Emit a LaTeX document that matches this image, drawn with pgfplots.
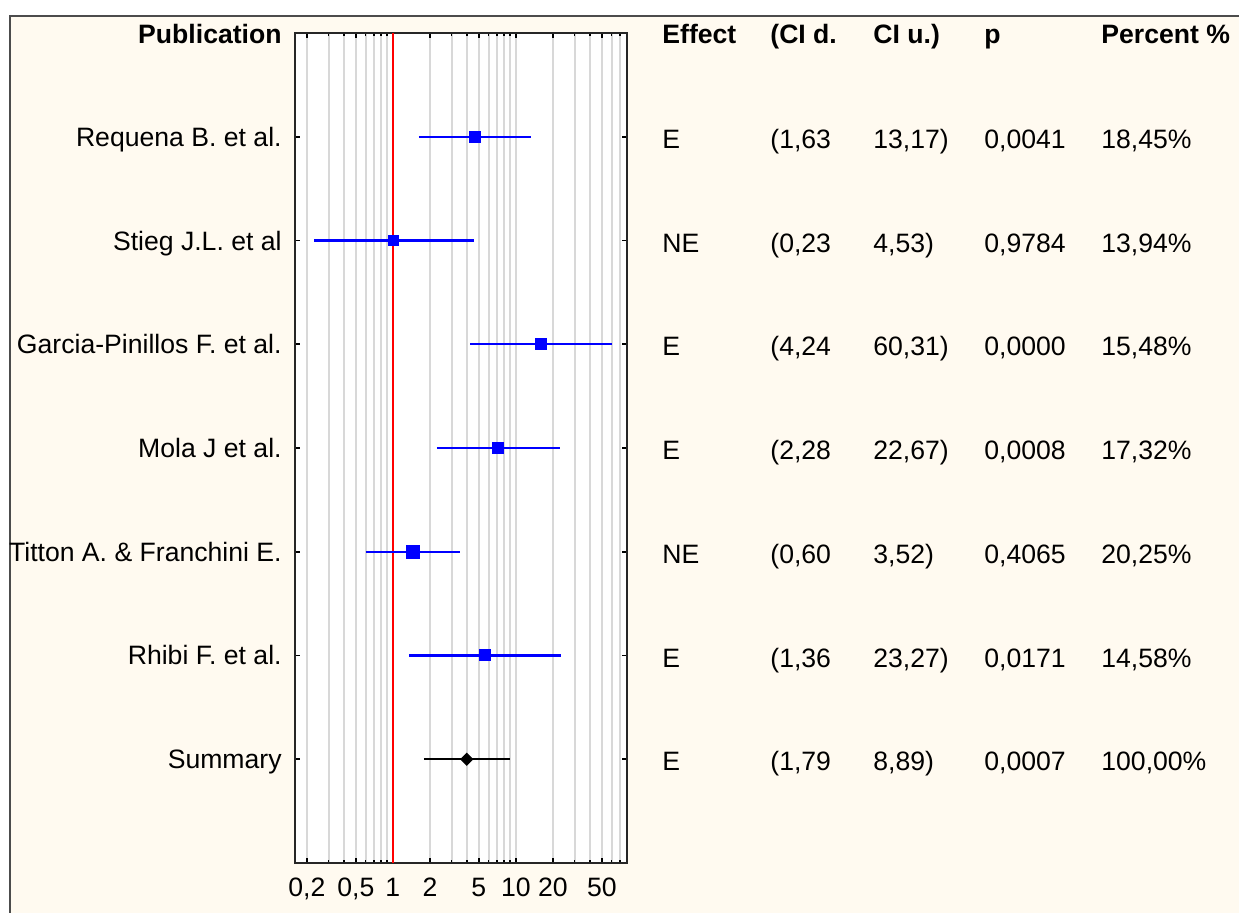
\documentclass[border=0pt]{standalone}
\usepackage{fontspec}
\setmainfont{Liberation Sans}
\usepackage{pgfplots}
\pgfplotsset{compat=1.18}

\definecolor{bgcream}{RGB}{255,250,240}
\definecolor{gridgray}{RGB}{216,216,216}
\definecolor{ciblue}{RGB}{0,0,255}

\newcommand\fsz{\fontsize{13.3}{15.5}\selectfont}
% one line of the statistics table: baseline, effect, CI low, CI up, p, percent
\newcommand\statrow[6]{%
  \node[anchor=base west] at (331pt,#1) {#2};
  \node[anchor=base west] at (385pt,#1) {(#3};
  \node[anchor=base west] at (436.5pt,#1) {#4)};
  \node[anchor=base west] at (492pt,#1) {#5};
  \node[anchor=base west] at (550.5pt,#1) {#6};
}

\begin{document}
\begin{tikzpicture}[font=\fsz]
\useasboundingbox (0,0) rectangle (619.5pt,456.5pt);
\fill[white] (0,0) rectangle (619.5pt,456.5pt);
\filldraw[fill=bgcream, draw=black!70, line width=0.8pt] (5pt,-10pt) rectangle (640pt,448.5pt);

\begin{axis}[
    at={(147.5pt,25pt)}, anchor=south west,
    width=166pt, height=415pt, scale only axis,
    xmode=log, xmin=0.16, xmax=80,
    ymin=0, ymax=8, y dir=reverse,
    axis background/.style={fill=white},
    axis line style={black!85, line width=1pt},
    xtick={0.2,0.5,1,2,5,10,20,50},
    xticklabels={{0,2},{0,5},1,2,5,10,20,50},
    minor xtick={0.3,0.4,0.6,0.7,0.8,0.9,3,4,6,7,8,9,30,40,60,70},
    xmajorgrids, xminorgrids,
    major grid style={gridgray, line width=1pt},
    minor grid style={gridgray, line width=1pt},
    ytick={1,...,7},
    yticklabels={Requena B. et al., Stieg J.L. et al, Garcia-Pinillos F. et al.,
        Mola J et al., Titton A. \& Franchini E., Rhibi F. et al., Summary},
    xticklabel pos=lower, yticklabel pos=left,
    tick pos=both, tick align=inside,
    major tick length=2.5pt, minor tick length=1.5pt,
    tick style={black, line width=0.8pt},
    tick label style={font=\fsz},
    xticklabel style={anchor=base, yshift=-17pt},
    yticklabel style={anchor=base east, inner sep=0pt, yshift=-4.75pt, xshift=-6.5pt},
    clip=false,
]
\addplot[red, line width=1pt] coordinates {(1,0) (1,8)};

\addplot[ciblue, line width=1.1pt, mark=square*, mark indices={2},
    mark size=2.75pt, mark options={line width=0.5pt}]
    coordinates {(1.63,1) (4.63,1) (13.17,1)};
\addplot[ciblue, line width=1.1pt, mark=square*, mark indices={2},
    mark size=2.5pt, mark options={line width=0.5pt}]
    coordinates {(0.23,2) (1.02,2) (4.53,2)};
\addplot[ciblue, line width=1.1pt, mark=square*, mark indices={2},
    mark size=2.7pt, mark options={line width=0.5pt}]
    coordinates {(4.24,3) (15.99,3) (60.31,3)};
\addplot[ciblue, line width=1.1pt, mark=square*, mark indices={2},
    mark size=2.75pt, mark options={line width=0.5pt}]
    coordinates {(2.28,4) (7.19,4) (22.67,4)};
\addplot[ciblue, line width=1.1pt, mark=square*, mark indices={2},
    mark size=3.25pt, mark options={line width=0.5pt}]
    coordinates {(0.60,5) (1.45,5) (3.52,5)};
\addplot[ciblue, line width=1.1pt, mark=square*, mark indices={2},
    mark size=2.75pt, mark options={line width=0.5pt}]
    coordinates {(1.36,6) (5.63,6) (23.27,6)};
\addplot[black, line width=1pt, mark=square*, mark indices={2},
    mark size=2.1pt, mark options={line width=0.5pt, rotate=45}]
    coordinates {(1.79,7) (3.99,7) (8.89,7)};
\end{axis}

\begin{scope}[every node/.style={font=\fsz\bfseries, inner sep=0pt}]
  \node[anchor=base east] at (141pt,434.5pt) {Publication};
  \node[anchor=base west] at (331pt,434.5pt) {Effect};
  \node[anchor=base west] at (385pt,434.5pt) {(CI d.};
  \node[anchor=base west] at (436.5pt,434.5pt) {CI u.)};
  \node[anchor=base west] at (492pt,434.5pt) {p};
  \node[anchor=base west] at (550.5pt,434.5pt) {Percent \%};
\end{scope}

\begin{scope}[every node/.style={inner sep=0pt}]
\statrow{382.3pt}{E}{1,63}{13,17}{0,0041}{18,45\%}
\statrow{330.4pt}{NE}{0,23}{4,53}{0,9784}{13,94\%}
\statrow{278.5pt}{E}{4,24}{60,31}{0,0000}{15,48\%}
\statrow{226.7pt}{E}{2,28}{22,67}{0,0008}{17,32\%}
\statrow{174.8pt}{NE}{0,60}{3,52}{0,4065}{20,25\%}
\statrow{122.9pt}{E}{1,36}{23,27}{0,0171}{14,58\%}
\statrow{71.1pt}{E}{1,79}{8,89}{0,0007}{100,00\%}
\end{scope}
\end{tikzpicture}
\end{document}
